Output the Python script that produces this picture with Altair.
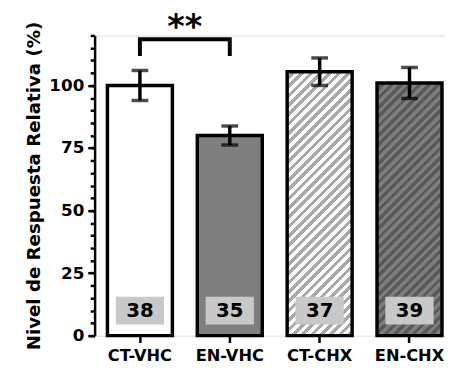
import altair as alt
import pandas as pd

# ---- data ----
groups = ["CT-VHC", "EN-VHC", "CT-CHX", "EN-CHX"]
means = [100.0, 80.0, 105.5, 101.0]
errors = [6.0, 3.8, 5.5, 6.2]
counts = [38, 35, 37, 39]

bracket_x = ["CT-VHC", "CT-VHC", "EN-VHC", "EN-VHC"]
bracket_y = [112.6, 118.5, 118.5, 112.6]
stars_label = "**"
stars_y = 119.0

# ---- layout constants ----
W, H = 356, 305
Y_MAX = 120
P_IN, P_OUT, ALIGN = 0.277, 0.088, 0.81
FONT = "DejaVu Sans"

step = W / (len(groups) - P_IN + 2 * P_OUT)
bandw = step * (1 - P_IN)

df = pd.DataFrame({"group": groups, "mean": means, "err": errors, "n": [str(c) for c in counts]})
df["lo"] = df["mean"] - df["err"]
df["hi"] = df["mean"] + df["err"]
bdf = pd.DataFrame({"group": bracket_x, "y": bracket_y, "o": list(range(len(bracket_x)))})

xscale = alt.Scale(domain=groups, paddingInner=P_IN, paddingOuter=P_OUT, align=ALIGN)
yscale = alt.Scale(domain=[0, Y_MAX], nice=False, zero=True)

x_axis = alt.Axis(
    domain=False, tickSize=7, tickWidth=2.5, tickColor="black", labelAngle=0,
    labelFont=FONT, labelFontSize=16.5, labelFontWeight="bold", labelColor="black", labelPadding=5,
)


def X():
    return alt.X("group:N", scale=xscale, sort=groups, axis=x_axis, title=None)


def stripes(w, h, c1, c2, period=9.5):
    L = w + h
    den = w * w + h * h
    x2 = w * L / den
    y2 = h * L / den
    stops = []
    k = 0
    while k * period < L:
        a = k * period / L
        b = min((k * period + period / 2) / L, 1.0)
        c = min((k + 1) * period / L, 1.0)
        stops += [(a, c1), (b, c1), (b, c2), (c, c2)]
        k += 1
    return alt.LinearGradient(
        gradient="linear",
        stops=[alt.GradientStop(color=col, offset=off) for off, col in stops],
        x1=0, y1=0, x2=x2, y2=y2,
    )


fills = {
    "CT-VHC": "#ffffff",
    "EN-VHC": "#7f7f7f",
}
for g, m in zip(groups, means):
    h = H * m / Y_MAX
    if g == "CT-CHX":
        fills[g] = stripes(bandw, h, "#ffffff", "#a9a9a9")
    elif g == "EN-CHX":
        fills[g] = stripes(bandw, h, "#7d7d7d", "#5a5a5a")

base = alt.Chart(df)

major_axis = alt.Axis(
    orient="left", values=[0, 25, 50, 75, 100], title="Nivel de Respuesta Relativa (%)",
    titleFont=FONT, titleFontSize=18.5, titleFontWeight="bold", titleColor="black", titlePadding=6,
    labelFont=FONT, labelFontSize=17, labelFontWeight="bold", labelColor="black", labelPadding=4,
    tickSize=7, tickWidth=2.5, tickColor="black", domainColor="black", domainWidth=2.5, grid=False,
)
minor_axis = alt.Axis(
    orient="left", values=list(range(0, 121, 5)), labels=False, title=None,
    tickSize=4.5, tickWidth=2.5, tickColor="black", domain=False, grid=False,
)

layers = []
for i, g in enumerate(groups):
    layers.append(
        base.transform_filter(alt.datum.group == g)
        .mark_bar(fill=fills[g], stroke="black", strokeWidth=3.5, strokeJoin="miter")
        .encode(
            x=X(),
            y=alt.Y("mean:Q", scale=yscale, axis=major_axis if i == 0 else None),
        )
    )

boxes = base.mark_bar(color="#c8c8c8", size=49).encode(
    x=X(), y=alt.Y(datum=4.5, scale=yscale, axis=None), y2=alt.datum(15.5)
)
nums = base.mark_text(font=FONT, fontSize=20, fontWeight="bold", color="black", baseline="middle").encode(
    x=X(), y=alt.Y(datum=10, scale=yscale, axis=None), text="n:N"
)
err_rule = base.mark_rule(color="black", strokeWidth=3.5).encode(
    x=X(), y=alt.Y("lo:Q", scale=yscale, axis=minor_axis), y2="hi:Q"
)
cap_hi = base.mark_tick(color="black", size=17, thickness=3.5).encode(
    x=X(), y=alt.Y("hi:Q", scale=yscale, axis=None)
)
cap_lo = base.mark_tick(color="black", size=17, thickness=3.5).encode(
    x=X(), y=alt.Y("lo:Q", scale=yscale, axis=None)
)
bracket = alt.Chart(bdf).mark_line(color="black", strokeWidth=4, strokeJoin="miter", strokeCap="square").encode(
    x=X(), y=alt.Y("y:Q", scale=yscale, axis=None), order="o:O"
)
stars = alt.Chart(pd.DataFrame({"group": ["CT-VHC"], "t": [stars_label]})).mark_text(
    font=FONT, fontSize=34, fontWeight="bold", color="black", baseline="alphabetic", dx=step / 2
).encode(x=X(), y=alt.Y(datum=stars_y, scale=yscale, axis=None), text="t:N")

chart = (
    alt.layer(*layers, boxes, nums, err_rule, cap_hi, cap_lo, bracket, stars)
    .resolve_axis(y="independent")
    .properties(
        width=W, height=H,
        padding={"left": 88, "top": 25, "right": 0, "bottom": 30},
        autosize=alt.AutoSizeParams(type="none"),
    )
    .configure_view(stroke=None)
    .configure(background="white")
)

chart.save("out.html", embed_options={"renderer": "svg", "actions": False})
